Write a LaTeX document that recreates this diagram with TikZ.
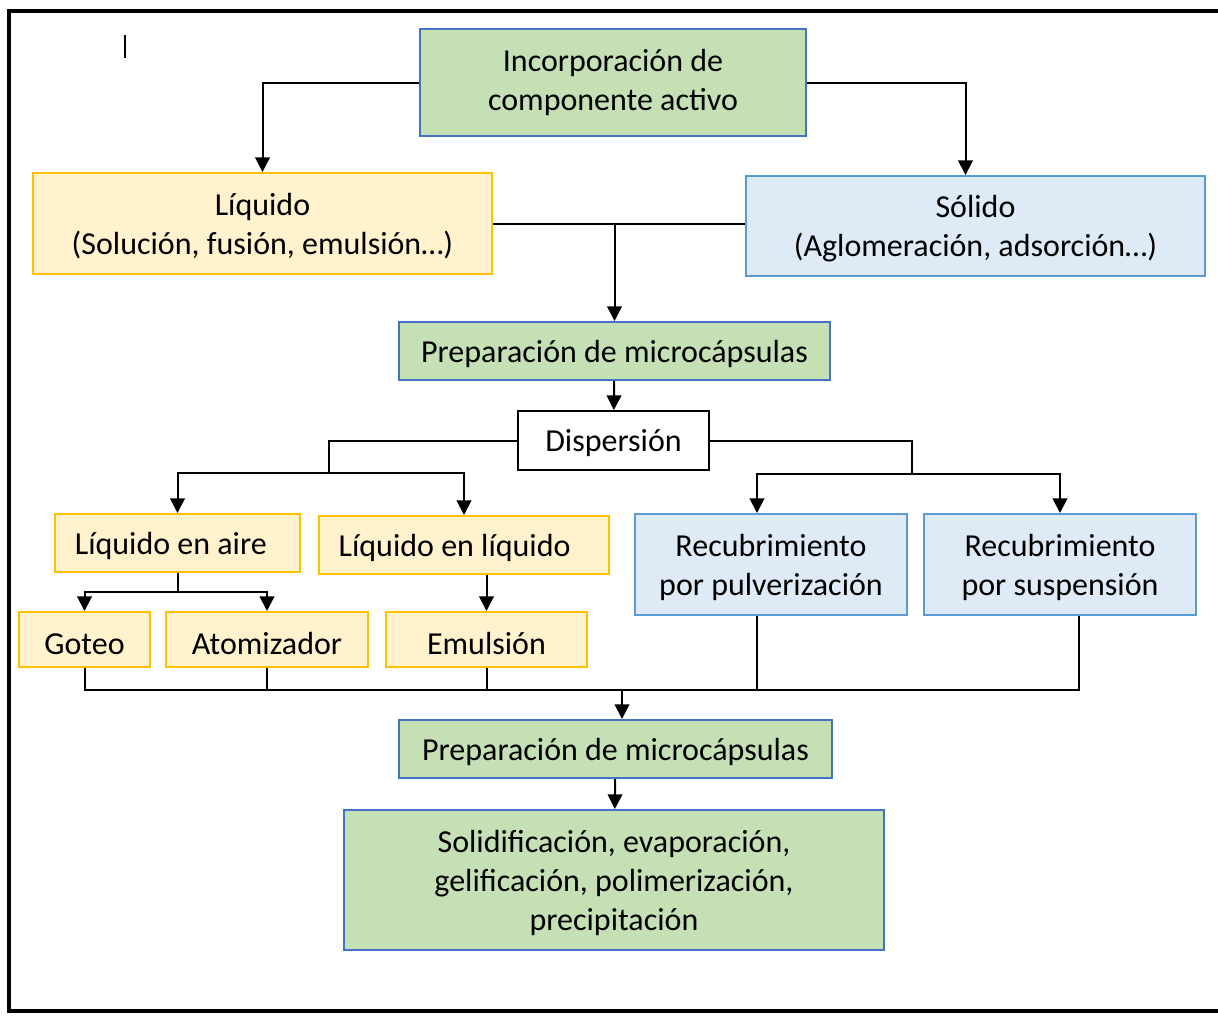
\documentclass[tikz,border=0pt]{standalone}
\usepackage{fontspec}
\setmainfont{Carlito}
\usetikzlibrary{arrows.meta}
\definecolor{gfill}{HTML}{C5E0B4}
\definecolor{gline}{HTML}{4472C4}
\definecolor{yfill}{HTML}{FFF2CC}
\definecolor{yline}{HTML}{FFC000}
\definecolor{bfill}{HTML}{DEEBF7}
\definecolor{bline}{HTML}{5B9BD5}
\tikzset{
  wh/.style 2 args={minimum width=#1*0.75pt, minimum height=#2*0.75pt},
  basebox/.style={rectangle, inner sep=0pt, align=center, line width=1.5pt,
    text depth=0pt, font=\fontsize{24pt}{29.3pt}\selectfont},
  gbox/.style={basebox, fill=gfill, draw=gline},
  ybox/.style={basebox, fill=yfill, draw=yline},
  bbox/.style={basebox, fill=bfill, draw=bline},
  wbox/.style={basebox, fill=white, draw=black},
  lowtext/.style={text height=23pt},
  conn/.style={line width=1.5pt, black},
  arr/.style={conn, -{Triangle[width=11pt,length=11pt]}},
}
\begin{document}
\begin{tikzpicture}[x=0.75pt, y=-0.75pt]
\useasboundingbox (0,0) rectangle (1218,1015);
\clip (0,0) rectangle (1218,1015);
% frame
\draw[line width=3pt] (1240,11) -- (9,11) -- (9,1011) -- (1240,1011);
\draw[line width=1.5pt] (125,35) -- (125,58);

% nodes
\node[gbox, wh={386}{107}, text depth=] (inc) at (613,82.5) {Incorporación de\\componente activo};
\node[ybox, wh={459}{101}] (liq) at (262.5,223.5) {Líquido\\(Solución, fusión, emulsión…)};
\node[bbox, wh={459}{100}] (sol) at (975.5,226) {Sólido\\(Aglomeración, adsorción…)};
\node[gbox, wh={431}{58}] (prep1) at (614.5,351) {Preparación de microcápsulas};
\node[wbox, wh={191}{59}] (disp) at (613.5,440.5) {Dispersión};
\node[ybox, wh={245}{58}] (lia) at (177.5,543) {Líquido en aire\hspace{10pt}};
\node[ybox, wh={290}{58}] (lil) at (464,545) {Líquido en líquido\hspace{14pt}};
\node[bbox, wh={272}{101}] (rpul) at (771,564.5) {Recubrimiento\\por pulverización};
\node[bbox, wh={272}{101}] (rsus) at (1060,564.5) {Recubrimiento\\por suspensión};
\node[ybox, lowtext, wh={131}{55}] (got) at (84.5,639.5) {Goteo};
\node[ybox, lowtext, wh={202}{55}] (ato) at (267,639.5) {Atomizador};
\node[ybox, lowtext, wh={201}{55}] (emu) at (486.5,639.5) {Emulsión};
\node[gbox, wh={433}{58}] (prep2) at (615.5,749) {Preparación de microcápsulas};
\node[gbox, wh={540}{140}] (fin) at (614,880) {Solidificación, evaporación,\\gelificación, polimerización,\\precipitación};

% junction coordinates
\coordinate (jl) at (329,473);
\coordinate (jr) at (912,474);
\coordinate (ja) at (181,592);
\coordinate (bus) at (622,690);

% connectors
\draw[arr] (inc.west) -| (liq.north);
\draw[arr] (inc.east) -| ([xshift=-7.5pt]sol.north);
\draw[conn] (liq.east) -- (liq.east -| sol.west);
\draw[arr] (prep1.north |- liq.east) -- (prep1.north);
\draw[arr] (prep1) -- (disp);
\draw[conn] (disp.west) -| (jl);
\draw[arr] (jl) -| (lia.north);
\draw[arr] (jl) -| (lil.north);
\draw[conn] (disp.east) -| (jr);
\draw[arr] (jr) -| ([xshift=-10.5pt]rpul.north);
\draw[arr] (jr) -| (rsus.north);
\draw[conn] (lia.south) -- (lia.south |- ja);
\draw[arr] (lia.south |- ja) -| (got.north);
\draw[arr] (lia.south |- ja) -| (ato.north);
\draw[arr] (lil.south -| emu.north) -- (emu.north);
\draw[conn] (got.south) -- (got.south |- bus) -- ([xshift=14.25pt]rsus.south |- bus) -- ([xshift=14.25pt]rsus.south);
\draw[conn] (ato.south) -- (ato.south |- bus);
\draw[conn] (emu.south) -- (emu.south |- bus);
\draw[conn] ([xshift=-10.5pt]rpul.south) -- ([xshift=-10.5pt]rpul.south |- bus);
\draw[arr] (bus) -- (prep2.north -| bus);
\draw[arr] (prep2) -- (fin);
\end{tikzpicture}
\end{document}
